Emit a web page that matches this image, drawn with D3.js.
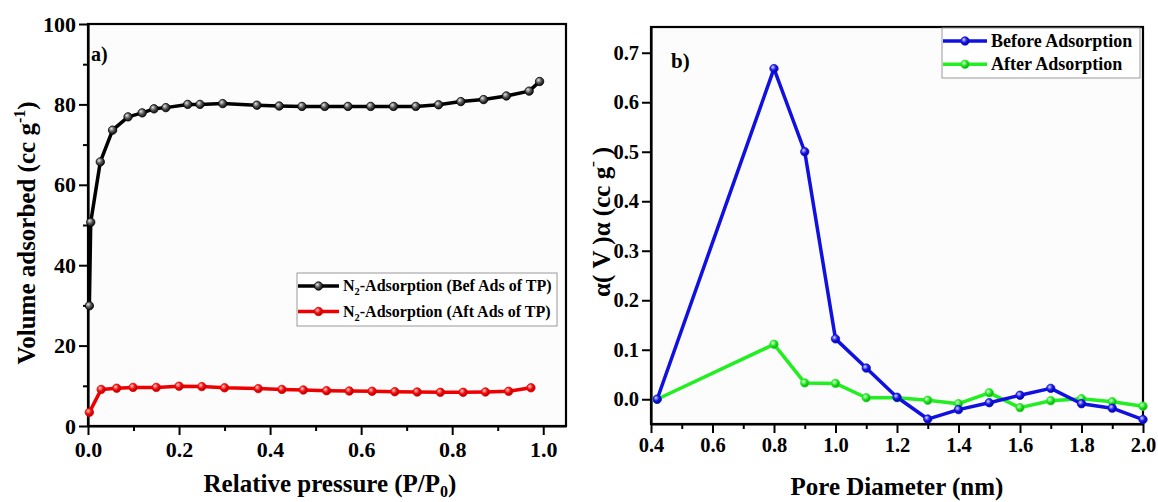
<!DOCTYPE html>
<html>
<head>
<meta charset="utf-8">
<script src="https://cdn.jsdelivr.net/npm/d3@7"></script>
<style>
  body { margin: 0; background: #fff; }
  svg { display: block; font-family: "Liberation Serif", "Times New Roman", serif; font-weight: bold; }
</style>
</head>
<body>
<svg id="chart" width="1158" height="502"></svg>
<script>
// panel a: N2 adsorption isotherms
const pressureBefore = [0.003, 0.006, 0.027, 0.054, 0.088, 0.119, 0.145, 0.171, 0.219, 0.246, 0.296, 0.371, 0.42, 0.47, 0.52, 0.571, 0.621, 0.671, 0.72, 0.77, 0.819, 0.869, 0.919, 0.969, 0.992];
const volumeBefore = [29.9, 50.7, 65.7, 73.6, 76.9, 77.9, 78.9, 79.2, 80.0, 80.0, 80.2, 79.8, 79.6, 79.5, 79.5, 79.5, 79.5, 79.5, 79.5, 79.9, 80.7, 81.2, 82.1, 83.3, 85.7];
const pressureAfter = [0.003, 0.029, 0.063, 0.099, 0.15, 0.2, 0.25, 0.3, 0.374, 0.426, 0.473, 0.524, 0.574, 0.624, 0.674, 0.723, 0.774, 0.824, 0.873, 0.924, 0.973];
const volumeAfter = [3.4, 9.1, 9.4, 9.6, 9.6, 9.9, 9.8, 9.5, 9.3, 9.1, 8.96, 8.78, 8.7, 8.63, 8.53, 8.46, 8.38, 8.38, 8.46, 8.63, 9.5];
const ticksA_x = [0, 0.2, 0.4, 0.6, 0.8, 1.0];
const ticksA_y = [0, 20, 40, 60, 80, 100];

// panel b: pore size distribution
const poreDiameter = [0.42, 0.8, 0.9, 1.0, 1.1, 1.2, 1.3, 1.4, 1.5, 1.6, 1.7, 1.8, 1.9, 2.0];
const distBefore = [0.0, 0.668, 0.5, 0.122, 0.063, 0.004, -0.040, -0.021, -0.007, 0.008, 0.022, -0.009, -0.018, -0.041];
const distAfter = [0.0, 0.111, 0.033, 0.032, 0.003, 0.003, -0.002, -0.009, 0.013, -0.017, -0.003, 0.001, -0.005, -0.014];
const ticksB_x = [0.4, 0.6, 0.8, 1.0, 1.2, 1.4, 1.6, 1.8, 2.0];
const ticksB_y = [0.0, 0.1, 0.2, 0.3, 0.4, 0.5, 0.6, 0.7];

const svg = d3.select('#chart');
const defs = svg.append('defs');

// shaded "sphere" markers like the original
function sphere(id, light, base, dark) {
    const g = defs.append('radialGradient').attr('id', id)
        .attr('cx', '40%').attr('cy', '38%').attr('r', '60%').attr('fx', '35%').attr('fy', '32%');
    g.append('stop').attr('offset', '0%').attr('stop-color', light);
    g.append('stop').attr('offset', '55%').attr('stop-color', base);
    g.append('stop').attr('offset', '100%').attr('stop-color', dark);
}
sphere('sph-black', '#e8e8e8', '#555', '#111');
sphere('sph-red', '#ffd0d0', '#f21010', '#b00000');
sphere('sph-blue', '#d8d8ff', '#1a1ae8', '#0000a0');
sphere('sph-green', '#e0ffe0', '#22e822', '#10a010');

function drawSeries(g, xs, ys, x, y, color, grad) {
    const pts = xs.map((v, i) => [v, ys[i]]);
    g.append('path')
        .datum(pts)
        .attr('d', d3.line().x(d => x(d[0])).y(d => y(d[1])))
        .attr('fill', 'none')
        .attr('stroke', color)
        .attr('stroke-width', 3.5)
        .attr('stroke-linejoin', 'round');
    g.selectAll(null)
        .data(pts)
        .enter()
        .append('circle')
        .attr('cx', d => x(d[0]))
        .attr('cy', d => y(d[1]))
        .attr('r', 4.2)
        .attr('fill', `url(#${grad})`)
        .attr('stroke', color)
        .attr('stroke-width', 0.8);
}

function styleAxis(sel, fontSize) {
    sel.select('.domain').attr('stroke', '#000').attr('stroke-width', 2.2);
    sel.selectAll('.tick line').attr('stroke', '#000').attr('stroke-width', 2);
    sel.selectAll('.tick text')
        .attr('fill', '#000')
        .attr('font-size', fontSize)
        .attr('font-family', '"Liberation Serif", serif')
        .attr('font-weight', 'bold');
}

function legend(g, x0, y0, w, h, rows, fontSize, lineLen, rowGap) {
    g.append('rect')
        .attr('x', x0).attr('y', y0).attr('width', w).attr('height', h)
        .attr('fill', '#fff').attr('stroke', '#999').attr('stroke-width', 1);
    rows.forEach((r, i) => {
        const cy = y0 + 13 + i * rowGap;
        g.append('line')
            .attr('x1', x0 + 1).attr('x2', x0 + 1 + lineLen)
            .attr('y1', cy).attr('y2', cy)
            .attr('stroke', r.color).attr('stroke-width', 3.5);
        g.append('circle')
            .attr('cx', x0 + 1 + lineLen / 2).attr('cy', cy).attr('r', 4.2)
            .attr('fill', `url(#${r.grad})`).attr('stroke', r.color).attr('stroke-width', 0.8);
        const t = g.append('text')
            .attr('x', x0 + lineLen + 5).attr('y', cy + fontSize * 0.33)
            .attr('font-size', fontSize);
        r.parts.forEach(p => {
            const ts = t.append('tspan').text(p.t);
            if (p.sub) ts.attr('font-size', fontSize * 0.65).attr('dy', 4);
            if (p.after) ts.attr('dy', -4);
        });
    });
}

// ---------- panel a ----------
const a = { left: 88, right: 566, top: 24, bottom: 426 };
const xA = d3.scaleLinear().domain([0, 1.05]).range([a.left, a.right]);
const yA = d3.scaleLinear().domain([0, 100]).range([a.bottom, a.top]);

svg.append('rect').attr('x', a.left).attr('y', a.top)
    .attr('width', a.right - a.left).attr('height', a.bottom - a.top)
    .attr('fill', '#fcfcfc').attr('stroke', '#000').attr('stroke-width', 2.2);

svg.append('g').attr('transform', `translate(0,${a.bottom})`)
    .call(d3.axisBottom(xA).tickValues(d3.range(0.1, 1.05, 0.2)).tickSize(5).tickFormat('').tickSizeOuter(0))
    .call(s => styleAxis(s, 22)).select('.domain').remove();
svg.append('g').attr('transform', `translate(${a.left},0)`)
    .call(d3.axisLeft(yA).tickValues([10, 30, 50, 70, 90]).tickSize(5).tickFormat('').tickSizeOuter(0))
    .call(s => styleAxis(s, 22)).select('.domain').remove();

svg.append('g').attr('transform', `translate(0,${a.bottom})`)
    .call(d3.axisBottom(xA).tickValues(ticksA_x).tickSize(9).tickPadding(6).tickFormat(d3.format('.1f')).tickSizeOuter(0))
    .call(s => styleAxis(s, 22));
svg.append('g').attr('transform', `translate(${a.left},0)`)
    .call(d3.axisLeft(yA).tickValues(ticksA_y).tickSize(9).tickPadding(3).tickFormat(d3.format('d')).tickSizeOuter(0))
    .call(s => styleAxis(s, 22));

const gA = svg.append('g');
drawSeries(gA, pressureAfter, volumeAfter, xA, yA, '#ee0000', 'sph-red');
drawSeries(gA, pressureBefore, volumeBefore, xA, yA, '#000', 'sph-black');

svg.append('text').attr('x', 91).attr('y', 61).attr('font-size', 20).text('a)');

legend(gA, 297, 273, 260, 53, [
    { color: '#000', grad: 'sph-black', parts: [{ t: 'N' }, { t: '2', sub: true }, { t: '-Adsorption (Bef Ads of TP)', after: true }] },
    { color: '#ee0000', grad: 'sph-red', parts: [{ t: 'N' }, { t: '2', sub: true }, { t: '-Adsorption (Aft Ads of TP)', after: true }] }
], 16, 41, 25.5);

const titleAx = svg.append('text').attr('x', 330).attr('y', 492)
    .attr('text-anchor', 'middle').attr('font-size', 25);
titleAx.append('tspan').text('Relative pressure (P/P');
titleAx.append('tspan').text('0').attr('font-size', 16).attr('dy', 5);
titleAx.append('tspan').text(')').attr('dy', -5);

const titleAy = svg.append('text')
    .attr('transform', `translate(35,${(a.top + a.bottom) / 2 + 8}) rotate(-90)`)
    .attr('text-anchor', 'middle').attr('font-size', 25);
titleAy.append('tspan').text('Volume adsorbed (cc g');
titleAy.append('tspan').text('-1').attr('font-size', 16).attr('dy', -10);
titleAy.append('tspan').text(')').attr('dy', 10);

// ---------- panel b ----------
const b = { left: 651, right: 1143, top: 27, bottom: 424 };
const xB = d3.scaleLinear().domain([0.4, 2.0]).range([b.left, b.right]);
const yB = d3.scaleLinear().domain([-0.05, 0.752]).range([b.bottom, b.top]);

svg.append('rect').attr('x', b.left).attr('y', b.top)
    .attr('width', b.right - b.left).attr('height', b.bottom - b.top)
    .attr('fill', '#fcfcfc').attr('stroke', '#000').attr('stroke-width', 2.2);

svg.append('g').attr('transform', `translate(0,${b.bottom})`)
    .call(d3.axisBottom(xB).tickValues(d3.range(0.5, 2.0, 0.2)).tickSize(5).tickFormat('').tickSizeOuter(0))
    .call(s => styleAxis(s, 20)).select('.domain').remove();

svg.append('g').attr('transform', `translate(0,${b.bottom})`)
    .call(d3.axisBottom(xB).tickValues(ticksB_x).tickSize(9).tickPadding(4).tickFormat(d3.format('.1f')).tickSizeOuter(0))
    .call(s => styleAxis(s, 20.5));
svg.append('g').attr('transform', `translate(${b.left},0)`)
    .call(d3.axisLeft(yB).tickValues(ticksB_y).tickSize(9).tickPadding(3).tickFormat(d3.format('.1f')).tickSizeOuter(0))
    .call(s => styleAxis(s, 20.5));

const gB = svg.append('g');
drawSeries(gB, poreDiameter, distAfter, xB, yB, '#22ee22', 'sph-green');
drawSeries(gB, poreDiameter, distBefore, xB, yB, '#1010e0', 'sph-blue');

svg.append('text').attr('x', 671).attr('y', 68).attr('font-size', 21).text('b)');

legend(gB, 942, 28, 198, 50, [
    { color: '#1010e0', grad: 'sph-blue', parts: [{ t: 'Before Adsorption' }] },
    { color: '#22ee22', grad: 'sph-green', parts: [{ t: 'After Adsorption' }] }
], 18, 44, 23.3);

svg.append('text').attr('x', 897).attr('y', 495)
    .attr('text-anchor', 'middle').attr('font-size', 25).text('Pore Diameter (nm)');

const titleBy = svg.append('text')
    .attr('transform', `translate(610,222) rotate(-90)`)
    .attr('text-anchor', 'middle').attr('font-size', 25);
titleBy.append('tspan').text('α( V )α (cc g');
titleBy.append('tspan').text('ˉ').attr('font-size', 16).attr('dy', -6);
titleBy.append('tspan').text(' )').attr('dy', 6);
</script>
</body>
</html>
